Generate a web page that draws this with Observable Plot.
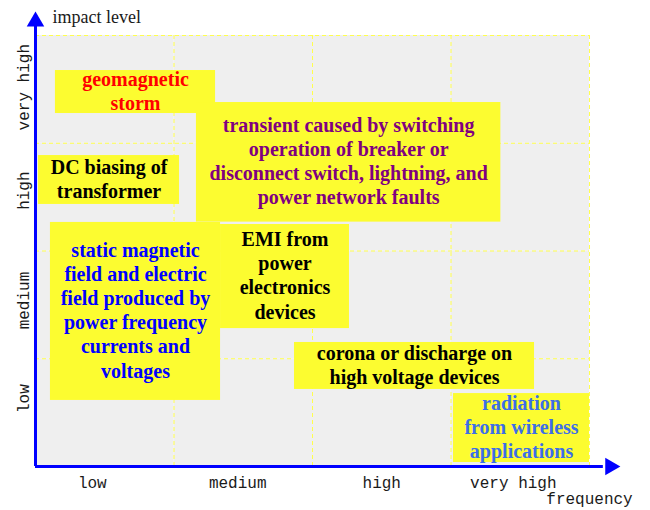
<!DOCTYPE html>
<html>
<head>
<meta charset="utf-8">
<script src="https://cdn.jsdelivr.net/npm/d3@7"></script>
<script src="https://cdn.jsdelivr.net/npm/@observablehq/plot@0.6"></script>
<style>
  html, body { margin: 0; padding: 0; background: #ffffff; }
  #chart svg { display: block; }
</style>
</head>
<body>
<div id="chart"></div>
<script>
// Categories (band boundaries are 0..4 on both axes)
const xTickLabels = ["low", "medium", "high", "very high"];
const xTickPos = [0.41, 1.46, 2.5, 3.45];
const yTickLabels = ["very high", "high", "medium", "low"];
const yTickPos = [3.52, 2.56, 1.54, 0.63];
const gridLines = [1, 2, 3, 4];

// Phenomena boxes (frequency extent x1..x2, impact extent y1..y2)
const labels = [
  "geomagnetic\nstorm",
  "transient caused by switching\noperation of breaker or\ndisconnect switch, lightning, and\npower network faults",
  "DC biasing of\ntransformer",
  "static magnetic\nfield and electric\nfield produced by\npower frequency\ncurrents and\nvoltages",
  "EMI from\npower\nelectronics\ndevices",
  "corona or discharge on\nhigh voltage devices",
  "radiation\nfrom wireless\napplications"
];
const freqFrom = [0.144, 1.162, 0.022, 0.108, 1.336, 1.870, 3.018];
const freqTo   = [1.300, 3.360, 1.040, 1.336, 2.267, 3.603, 4.000];
const impFrom  = [3.276, 2.268, 2.432, 0.613, 1.280, 0.715, 0.037];
const impTo    = [3.675, 3.378, 2.886, 2.265, 2.246, 1.151, 0.677];
const textColors = ["#ff0000", "#800080", "#000000", "#0000ff", "#000000", "#000000", "#3c6ee8"];

const boxes = labels.map((t, i) => ({
  text: t, x1: freqFrom[i], x2: freqTo[i], y1: impFrom[i], y2: impTo[i], color: textColors[i]
}));

const cells = [];
for (let c = 0; c < 4; c++) for (let r = 0; r < 4; r++) cells.push({x1: c, x2: c + 1, y1: r, y2: r + 1});

const chart = Plot.plot({
  width: 650,
  height: 510,
  marginLeft: 35,
  marginRight: 61,
  marginTop: 35,
  marginBottom: 44,
  x: {domain: [0, 4], axis: null},
  y: {domain: [0, 4], axis: null},
  style: {background: "#ffffff"},
  marks: [
    Plot.rect(cells, {x1: "x1", x2: "x2", y1: "y1", y2: "y2", fill: "#efefef"}),
    Plot.ruleX(gridLines, {y1: 0, y2: 4, stroke: "#ffff4d", strokeWidth: 1, strokeDasharray: "4,3"}),
    Plot.ruleY(gridLines, {x1: 0, x2: 4, stroke: "#ffff4d", strokeWidth: 1, strokeDasharray: "4,3"}),
    Plot.rect(boxes, {x1: "x1", x2: "x2", y1: "y1", y2: "y2", fill: "#fcfc30"}),
    Plot.text(boxes, {
      x: d => (d.x1 + d.x2) / 2, y: d => (d.y1 + d.y2) / 2, text: "text", dy: -2,
      fill: "color", fontFamily: "Liberation Serif", fontWeight: "bold", fontSize: 20, lineHeight: 1.21
    }),
    // axes
    Plot.ruleX([0], {y1: 0, y2: 4.1, stroke: "#0000ff", strokeWidth: 3}),
    Plot.ruleY([0], {x1: 0, x2: 4.1, stroke: "#0000ff", strokeWidth: 3}),
    Plot.dot([0], {x: 0, y: 4.13, symbol: "triangle", r: 6.5, fill: "#0000ff", stroke: "none"}),
    Plot.dot([0], {x: 4.15, y: 0, symbol: "triangle", r: 6.5, fill: "#0000ff", stroke: "none", rotate: 90}),
    // tick labels
    Plot.text(xTickLabels, {x: (d, i) => xTickPos[i], y: -0.15, text: d => d,
      fontFamily: "Liberation Mono", fontSize: 16, fill: "#1a1a1a"}),
    Plot.text(yTickLabels, {x: -0.087, y: (d, i) => yTickPos[i], text: d => d, rotate: -90,
      fontFamily: "Liberation Mono", fontSize: 16, fill: "#1a1a1a"}),
    // axis titles
    Plot.text(["impact level"], {x: 0.123, y: 4.167, text: d => d, textAnchor: "start",
      fontFamily: "Liberation Serif", fontSize: 18, fill: "#1a1a1a"}),
    Plot.text(["frequency"], {x: 4.0, y: -0.3, text: d => d,
      fontFamily: "Liberation Mono", fontSize: 16, fill: "#1a1a1a"})
  ]
});
document.getElementById("chart").append(chart);
</script>
</body>
</html>
